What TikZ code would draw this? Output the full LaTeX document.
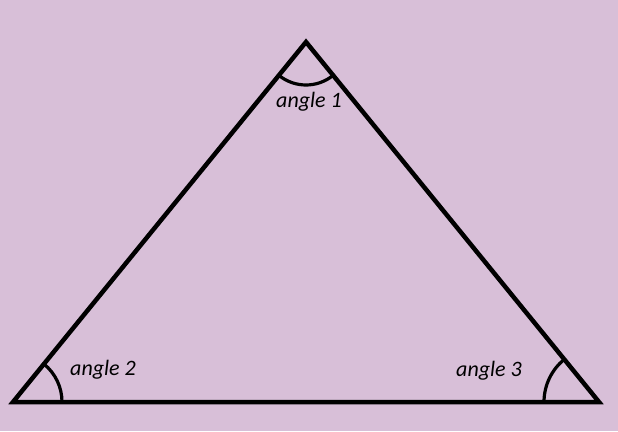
\documentclass[tikz,border=0pt]{standalone}
\usepackage{fontspec}
\setmainfont{Carlito}
\definecolor{bgpurple}{RGB}{216,191,216}
\begin{document}
\begin{tikzpicture}[x=1pt, y=1pt]
            \fill[bgpurple] (0,0) rectangle (618,431);
            \useasboundingbox (0,0) rectangle (618,431);
            \tikzset{side/.style={line width=4.5pt, line join=miter}, mark arc/.style={line width=3.2pt}, lbl/.style={font=\fontsize{22}{26}\selectfont\itshape, inner sep=0}}
            \coordinate (top) at (306,389);
            \coordinate (left) at (13,29);
            \coordinate (right) at (599,29);
            \draw[side] (top) -- (left) -- (right) -- cycle;
            \draw[mark arc] (top) ++(230.86:43) arc[start angle=230.86, end angle=309.14, radius=43];
            \draw[mark arc] (left) ++(0:49) arc[start angle=0, end angle=50.86, radius=49];
            \draw[mark arc] (right) ++(180:55) arc[start angle=180, end angle=129.14, radius=55];
            \node[lbl] (a1) at (309,329) {angle 1};
            \node[lbl] (a2) at (103,61) {angle 2};
            \node[lbl] (a3) at (489,60) {angle 3};
        \end{tikzpicture}
\end{document}
